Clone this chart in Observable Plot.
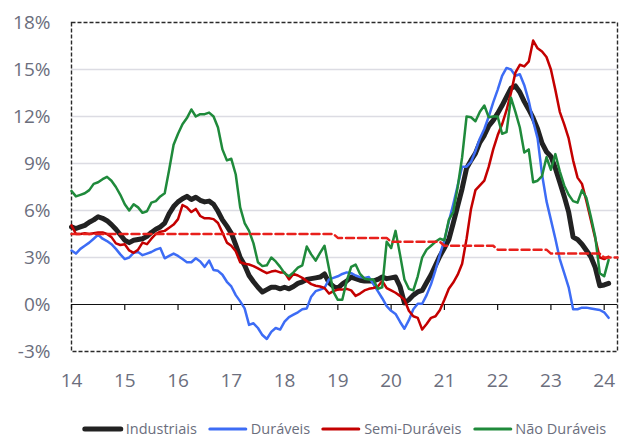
<!DOCTYPE html>
<html>
<head>
<meta charset="utf-8">
<script src="https://cdn.jsdelivr.net/npm/d3@7"></script>
<script src="https://cdn.jsdelivr.net/npm/@observablehq/plot@0.6"></script>
<style>
  html, body { margin: 0; padding: 0; background: #fff; }
  body { width: 621px; height: 437px; overflow: hidden; font-family: "Open Sans", sans-serif; }
  #legend { position: absolute; left: 0; top: 421px; width: 621px; height: 16px;
    font-size: 14.5px; line-height: 16px; color: #6b6e7d; white-space: nowrap; }
  #legend .inner { position: absolute; left: 344px; top: 0; transform: translateX(-50%); display: flex; align-items: center; height: 16px; }
  .item { display: flex; align-items: center; margin: 0 5px; flex-shrink: 0; white-space: nowrap; height: 16px; }
  .item svg { margin-right: 2px; flex-shrink: 0; }
</style>
</head>
<body>
<div id="chart"></div>
<div id="legend"><div class="inner"></div></div>
<script>
// Monthly values, Jan 2014 (index 0) to Feb 2024 (index 121), % y/y
const industriais = [4.95,4.85,4.95,5.05,5.25,5.4,5.6,5.5,5.35,5.1,4.8,4.45,
  4.1,3.95,4.1,4.15,4.2,4.35,4.6,4.8,4.95,5.2,5.8,6.25,
  6.55,6.75,6.9,6.7,6.85,6.65,6.55,6.6,6.4,5.95,5.4,5.0,
  4.55,3.8,3.0,2.5,1.85,1.45,1.1,0.8,0.95,1.1,1.1,1.0,
  1.1,1.0,1.15,1.35,1.45,1.6,1.65,1.7,1.75,1.95,1.4,1.15,
  1.05,1.3,1.5,1.75,1.65,1.55,1.5,1.5,1.5,1.6,1.75,1.65,
  1.7,1.75,1.15,0.1,0.3,0.6,0.8,0.9,1.4,1.9,2.5,3.1,
  3.6,4.15,5.2,6.3,7.4,8.7,9.2,9.65,10.35,10.8,11.4,11.75,
  12.2,12.7,13.25,13.8,13.95,13.55,12.95,12.45,11.9,11.2,10.3,9.75,
  9.45,8.7,7.8,6.9,5.9,4.3,4.15,3.85,3.45,3.05,2.35,1.2,
  1.25,1.35];
const duraveis = [3.45,3.25,3.55,3.75,3.95,4.2,4.45,4.2,4.05,3.85,3.55,3.2,
  2.9,3.0,3.3,3.35,3.15,3.25,3.35,3.5,3.6,2.95,3.1,3.25,
  3.1,2.9,2.7,2.7,2.95,2.75,2.4,2.8,2.2,2.15,1.9,1.45,
  1.15,0.6,0.2,-0.25,-1.3,-1.2,-1.5,-1.95,-2.2,-1.75,-1.5,-1.6,
  -1.1,-0.8,-0.65,-0.5,-0.3,-0.25,0.5,0.85,0.95,1.05,1.6,1.7,
  1.8,1.95,2.05,2.0,1.85,1.75,1.7,1.75,1.3,0.85,0.4,-0.1,
  -0.4,-0.6,-1.1,-1.55,-1.0,-0.3,0.05,0.05,0.6,1.3,2.2,3.2,
  4.1,5.3,6.4,7.6,8.8,8.8,9.1,9.8,10.6,11.2,12.0,12.9,
  13.7,14.6,15.1,15.0,14.6,14.7,14.0,13.0,11.7,10.6,8.3,6.6,
  5.4,4.2,2.9,2.0,1.1,-0.3,-0.3,-0.2,-0.2,-0.25,-0.3,-0.35,
  -0.5,-0.85];
const semiDuraveis = [5.05,4.5,4.5,4.55,4.5,4.55,4.6,4.6,4.5,4.3,3.9,3.8,
  3.85,3.45,3.3,3.5,3.95,3.85,4.2,4.5,4.65,4.7,4.9,5.1,
  5.45,6.35,6.2,5.9,6.1,5.65,5.5,5.5,5.45,5.2,4.6,3.95,
  3.75,3.4,2.7,2.6,2.55,2.45,2.3,2.15,2.0,2.1,2.15,2.05,
  2.05,1.6,1.95,1.85,1.7,1.5,1.3,1.2,1.15,1.05,0.7,0.85,
  0.95,0.95,1.0,0.9,0.55,0.7,0.9,1.0,1.05,1.15,1.5,1.05,
  0.9,0.75,0.55,0.3,-0.4,-0.75,-0.85,-1.6,-1.25,-0.85,-0.75,-0.35,
  0.3,1.0,1.4,1.9,2.6,4.2,6.1,7.3,7.6,7.9,8.8,9.9,
  10.8,11.5,12.4,13.5,14.8,15.3,15.2,15.5,16.85,16.35,16.15,15.8,
  15.0,13.7,12.3,11.5,10.6,9.2,8.1,7.7,6.6,5.4,4.2,3.0,
  2.9,3.05];
const naoDuraveis = [7.25,6.9,7.0,7.1,7.3,7.7,7.8,8.0,8.15,7.9,7.5,7.0,
  6.4,6.0,6.4,6.2,5.85,5.95,6.5,6.6,6.9,7.1,8.6,10.2,
  10.9,11.5,11.9,12.45,12.0,12.15,12.15,12.25,12.0,11.3,9.9,9.2,
  9.3,8.3,6.2,5.2,4.7,3.9,2.7,2.45,2.5,3.0,2.75,2.4,
  2.0,1.8,2.05,2.35,2.5,3.7,3.2,2.8,3.3,3.75,2.3,0.8,
  0.3,0.3,1.5,2.4,2.55,1.95,1.65,1.6,1.6,1.0,1.1,4.0,
  3.6,4.7,3.2,1.6,1.0,0.9,1.8,3.0,3.5,3.75,4.0,4.2,
  4.1,5.4,5.9,7.5,9.4,12.0,11.95,11.7,12.3,12.7,11.95,12.0,
  12.0,10.9,11.0,13.2,12.3,11.3,9.7,9.9,7.8,7.9,8.2,9.4,
  8.6,9.6,8.5,7.6,7.0,6.6,6.5,7.3,6.8,5.6,4.3,2.0,
  1.8,2.85];
// Inflation target by year (%)
const targetYears = [2014,2015,2016,2017,2018,2019,2020,2021,2022,2023,2024];
const targetValues = [4.5,4.5,4.5,4.5,4.5,4.25,4.0,3.75,3.5,3.25,3.0];
const targetMonths = 124;   // Jan 2014 .. Apr 2024
const yearLabels = ["14","15","16","17","18","19","20","21","22","23","24"];
const yTicks = [-3,0,3,6,9,12,15,18];

const seriesNames = ["Industriais","Duráveis","Semi-Duráveis","Não Duráveis"];
const seriesValues = [industriais, duraveis, semiDuraveis, naoDuraveis];
const seriesColors = ["#222222","#3d6cf5","#c40000","#1f8a3b"];
const seriesWidths = [5,2.5,2.5,2.5];

const rows = seriesNames.map((name, k) => seriesValues[k].map((v, i) => ({m: i, v, name})));
const target = d3.range(targetMonths).map(i => ({m: i, v: targetValues[targetYears.indexOf(2014 + Math.floor(i / 12))]}));
const yearTicks = yearLabels.map((_, i) => i * 12);

const H = 400;
const chart = Plot.plot({
  width: 621,
  height: H,
  marginLeft: 71,
  marginRight: 4,
  marginTop: 22,
  marginBottom: H - 351,
  style: {fontFamily: "'Open Sans', sans-serif", fontSize: "19px", color: "#6b6e7d", background: "#fff"},
  x: {domain: [0, 123]},
  y: {domain: [-3, 18]},
  marks: [
    Plot.gridY([3,6,9,12,15], {stroke: "#dcdce3", strokeOpacity: 1, strokeWidth: 1.5}),
    Plot.frame({stroke: "#2a2a2a", strokeDasharray: "4,2", strokeWidth: 1.4}),
    Plot.ruleY([0], {stroke: "#111", strokeWidth: 1.2}),
    Plot.ruleX(yearTicks, {x: d => d, y1: 0, y2: 0, insetBottom: -6, stroke: "#111", strokeWidth: 1.2}),
    Plot.axisY({ticks: yTicks, tickFormat: d => `${d}%`, tickSize: 0, tickPadding: 21, label: null, fontSize: 19}),
    Plot.axisX({ticks: yearTicks, tickFormat: (d, i) => yearLabels[i], tickSize: 0, tickPadding: 22, label: null, fontSize: 19}),
    ...rows.map((r, k) => Plot.line(r, {x: "m", y: "v", stroke: seriesColors[k], strokeWidth: seriesWidths[k], strokeLinejoin: "round"})),
    Plot.line(target, {x: "m", y: "v", stroke: "#e8201c", strokeWidth: 2.5, strokeDasharray: "8,4"})
  ]
});
document.getElementById("chart").appendChild(chart);

const legend = document.querySelector("#legend .inner");
seriesNames.forEach((name, k) => {
  const item = document.createElement("div");
  item.className = "item";
  item.innerHTML = `<svg width="42" height="10"><line x1="3" x2="39" y1="5" y2="5" stroke="${seriesColors[k]}" stroke-width="${seriesWidths[k] === 5 ? 5 : 3}" stroke-linecap="round"/></svg><span>${name}</span>`;
  legend.appendChild(item);
});
</script>
</body>
</html>
